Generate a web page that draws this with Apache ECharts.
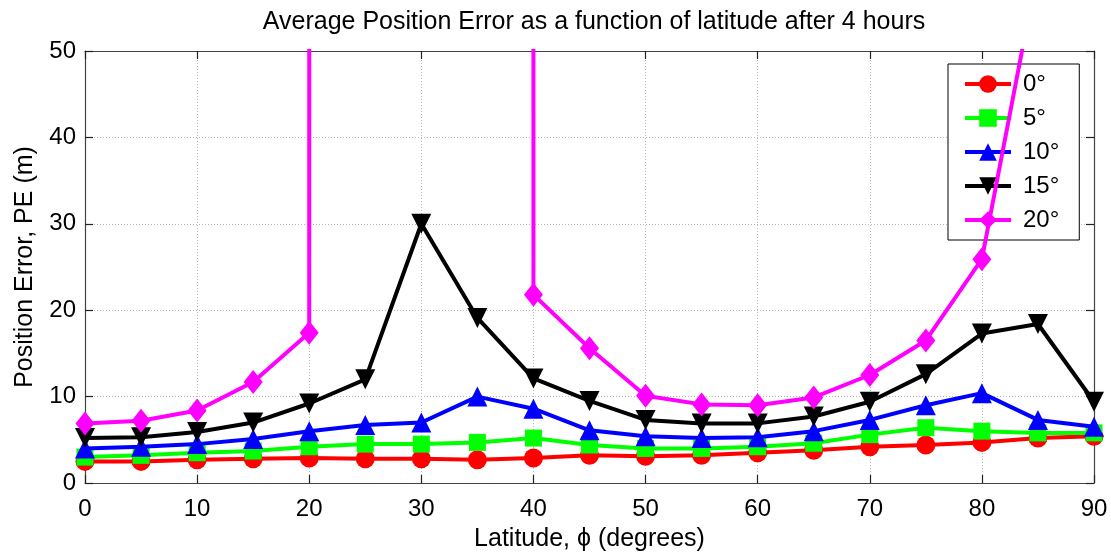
<!DOCTYPE html>
<html>
<head>
<meta charset="utf-8">
<script src="https://cdn.jsdelivr.net/npm/echarts@6/dist/echarts.min.js"></script>
<style>
    html, body { margin: 0; padding: 0; background: #fff; }
    #chart { width: 1111px; height: 554px; }
</style>
</head>
<body>
<div id="chart"></div>
<script>
// latitude (degrees)
var lat = [0, 5, 10, 15, 20, 25, 30, 35, 40, 45, 50, 55, 60, 65, 70, 75, 80, 85, 90];
var names = ["0°", "5°", "10°", "15°", "20°"];
// position error (m) per elevation mask
var pe0 = [2.5, 2.5, 2.7, 2.8, 2.9, 2.8, 2.8, 2.7, 2.9, 3.2, 3.1, 3.2, 3.5, 3.8, 4.2, 4.4, 4.7, 5.2, 5.4];
var pe5 = [3.0, 3.2, 3.5, 3.7, 4.2, 4.5, 4.5, 4.7, 5.2, 4.4, 4.0, 4.0, 4.2, 4.6, 5.6, 6.4, 6.0, 5.8, 5.8];
var pe10 = [4.0, 4.2, 4.5, 5.1, 6.0, 6.7, 7.0, 10.0, 8.6, 6.1, 5.4, 5.2, 5.3, 6.0, 7.3, 9.0, 10.4, 7.3, 6.5];
var pe15 = [5.2, 5.3, 5.9, 7.0, 9.2, 12.0, 30.0, 19.1, 12.1, 9.5, 7.3, 6.9, 6.9, 7.7, 9.4, 12.6, 17.3, 18.4, 9.4];
// 25-35 and 90 blow up far above the axis
var pe20 = [6.9, 7.2, 8.4, 11.7, 17.4, 100000, 100000, 100000, 21.8, 15.6, 10.1, 9.1, 9.0, 9.9, 12.5, 16.5, 25.9, 59.6, 200];
var xTicks = [0, 10, 20, 30, 40, 50, 60, 70, 80, 90];
var yTicks = [0, 10, 20, 30, 40, 50];

var colors = ["#ff0000", "#00ff00", "#0000ff", "#000000", "#ff00ff"];
var symbols = ["circle", "rect", "triangle", "triangle", "diamond"];
var symSizes = [19, 17, 20, 20, [19, 24]];
var rotates = [0, 0, 0, 180, 0];
var allData = [pe0, pe5, pe10, pe15, pe20];

var font = "'Liberation Sans', Arial, Helvetica, sans-serif";
var chart = echarts.init(document.getElementById("chart"), null, { renderer: "canvas" });

var series = allData.map(function (vals, i) {
    return {
        name: names[i],
        type: "line",
        data: vals.map(function (v, j) { return [lat[j], v]; }),
        symbol: symbols[i],
        symbolSize: symSizes[i],
        symbolRotate: rotates[i],
        showAllSymbol: true,
        clip: true,
        z: 2 + i,
        lineStyle: { color: colors[i], width: 4 },
        itemStyle: { color: colors[i], borderWidth: 0 },
        emphasis: { disabled: true },
        animation: false
    };
});

var lineStyle = { color: "#444", width: 1.2 };
var tickStyle = { show: true, inside: true, length: 8, lineStyle: { color: "#222", width: 1.2 } };
var gridLine = { show: true, lineStyle: { color: "#b8b8b8", type: [1, 2], width: 1 } };

var option = {
    backgroundColor: "#fff",
    animation: false,
    title: {
        text: "Average Position Error as a function of latitude after 4 hours",
        left: 589,
        top: 5,
        textAlign: "center",
        textStyle: { fontFamily: font, fontSize: 25, fontWeight: "normal", color: "#000" }
    },
    grid: { left: 85, right: 17, top: 51, bottom: 71, outerBoundsMode: "none", containLabel: false },
    legend: {
        orient: "vertical",
        left: 948,
        top: 64,
        padding: [8, 20, 8, 15],
        itemWidth: 46,
        itemHeight: 22,
        itemGap: 10,
        backgroundColor: "#fff",
        borderColor: "#000",
        borderWidth: 1,
        borderRadius: 0,
        lineStyle: { width: 4 },
        textStyle: { fontFamily: font, fontSize: 24, lineHeight: 22, color: "#000", padding: [0, 0, 0, 7] },
        data: names
    },
    xAxis: [{
        type: "value",
        min: 0,
        max: 90,
        interval: 10,
        name: "Latitude, ϕ (degrees)",
        nameLocation: "middle",
        nameGap: 44,
        nameTextStyle: { fontFamily: font, fontSize: 25, color: "#000", verticalAlign: "top" },
        axisLine: { show: true, onZero: false, lineStyle: lineStyle },
        axisTick: tickStyle,
        axisLabel: {
            fontFamily: font, fontSize: 24, color: "#000", margin: 14,
            formatter: function (v) { return xTicks.indexOf(v) >= 0 ? String(v) : ""; }
        },
        splitLine: gridLine
    }, {
        type: "value",
        min: 0,
        max: 90,
        interval: 10,
        position: "top",
        axisLine: { show: true, onZero: false, lineStyle: lineStyle },
        axisTick: tickStyle,
        axisLabel: { show: false },
        splitLine: { show: false }
    }],
    yAxis: [{
        type: "value",
        min: 0,
        max: 50,
        interval: 10,
        name: "Position Error, PE (m)",
        nameLocation: "middle",
        nameGap: 47,
        nameTextStyle: { fontFamily: font, fontSize: 25, color: "#000" },
        axisLine: { show: true, onZero: false, lineStyle: lineStyle },
        axisTick: tickStyle,
        axisLabel: {
            fontFamily: font, fontSize: 24, color: "#000", margin: 9,
            formatter: function (v) { return yTicks.indexOf(v) >= 0 ? String(v) : ""; }
        },
        splitLine: gridLine
    }, {
        type: "value",
        min: 0,
        max: 50,
        interval: 10,
        position: "right",
        axisLine: { show: true, onZero: false, lineStyle: lineStyle },
        axisTick: tickStyle,
        axisLabel: { show: false },
        splitLine: { show: false }
    }],
    series: series
};

chart.setOption(option);
</script>
</body>
</html>
